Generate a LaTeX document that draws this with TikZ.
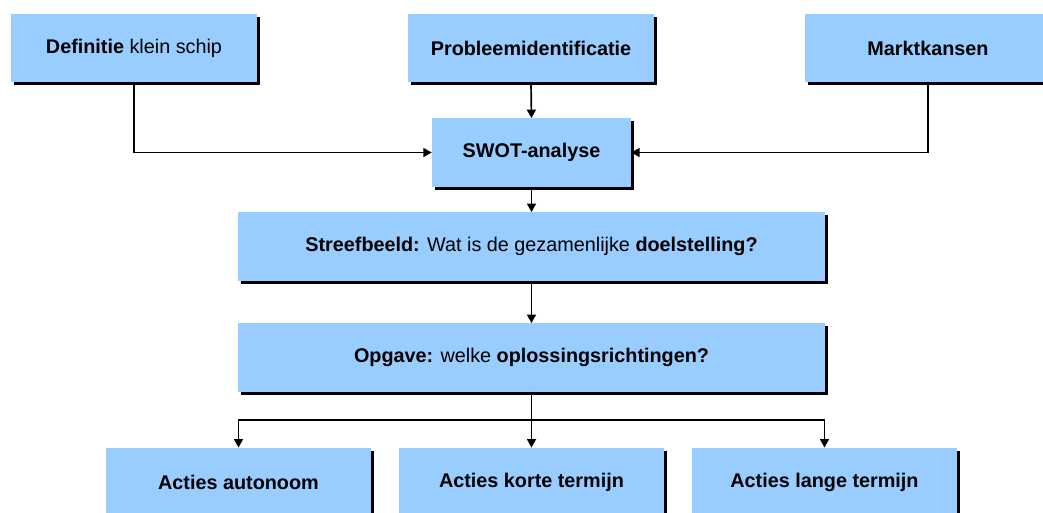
\documentclass[tikz,border=0pt]{standalone}
\usepackage{fontspec}
\setmainfont{Liberation Sans}
\usetikzlibrary{arrows.meta,backgrounds}
\definecolor{boxblue}{HTML}{99CCFF}
\definecolor{shadowgrey}{HTML}{878787}

\begin{document}
\begin{tikzpicture}[x=1pt,y=-1pt,
    blok/.style={fill=boxblue, inner sep=0pt, minimum height=68.5pt,
                 font=\fontsize{19.8}{24}\selectfont},
    pijl/.style={line width=1.7pt, -{Triangle[length=8.5pt,width=9pt]}},
    lijn/.style={line width=1.7pt}]
                        \useasboundingbox (0,0) rectangle (1043,512);
                        \clip (0,0) rectangle (1043,512);
                        % bovenste rij
                        \node[blok, minimum width=246pt] (definitie) at (134,48) {\textbf{Definitie} klein schip};
                        \node[blok, minimum width=246pt] (probleem) at (531,48) {\textbf{Probleemidentificatie}};
                        \node[blok, minimum width=246pt] (markt) at (928,48) {\textbf{Marktkansen}};
                        % midden
                        \node[blok, minimum width=199pt] (swot) at (531.5,152.5) {\textbf{SWOT-analyse}};
                        \node[blok, minimum width=587pt] (streefbeeld) at (531.5,246.5) {\textbf{Streefbeeld:} Wat is de gezamenlijke \textbf{doelstelling?}};
                        \node[blok, minimum width=587pt] (opgave) at (531.5,357.5) {\textbf{Opgave:} welke \textbf{oplossingsrichtingen?}};
                        % onderste rij
                        \node[blok, minimum width=265pt] (autonoom) at (238.5,482) {\textbf{Acties autonoom}};
                        \node[blok, minimum width=265pt] (kort) at (531.5,482) {\textbf{Acties korte termijn}};
                        \node[blok, minimum width=265pt] (lang) at (824.5,482) {\textbf{Acties lange termijn}};
                        \coordinate (splits) at (531.5,420);
                        % schaduwen
                        \begin{scope}[on background layer, fill=shadowgrey]
                            \foreach \n in {definitie,probleem,markt,swot,streefbeeld,opgave,autonoom,kort,lang}
                                \fill ([xshift=3pt,yshift=-3pt]\n.south west) rectangle ([xshift=3pt,yshift=-3pt]\n.north east);
                        \end{scope}
                        % verbindingen
                        \draw[pijl] (definitie.south) |- (swot.west);
                        \draw[pijl] (probleem.south) -- (swot.north);
                        \draw[pijl] (markt.south) |- (swot.east);
                        \draw[pijl] (swot.south) -- (streefbeeld.north);
                        \draw[pijl] (streefbeeld.south) -- (opgave.north);
                        \draw[lijn] (opgave.south) -- (splits);
                        \draw[pijl] (splits) -| (autonoom.north);
                        \draw[pijl] (splits) -- (kort.north);
                        \draw[pijl] (splits) -| (lang.north);
                    \end{tikzpicture}
\end{document}
